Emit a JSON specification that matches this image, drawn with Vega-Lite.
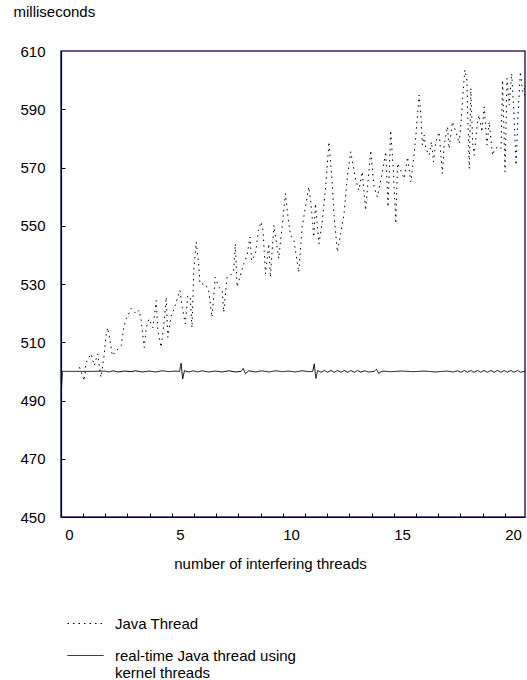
{
  "$schema": "https://vega.github.io/schema/vega-lite/v6.json",
  "width": 464,
  "height": 466,
  "autosize": "none",
  "padding": {"left": 61, "top": 51, "right": 2, "bottom": 163},
  "config": {
    "font": "Liberation Sans",
    "view": {"stroke": "#2a2a70", "strokeWidth": 1.5},
    "axis": {"domainColor": "black", "domainWidth": 1.2, "grid": false, "labelFontSize": 15, "titleFontSize": 15, "titleFontWeight": "normal", "labelColor": "black", "titleColor": "black", "tickWidth": 1.2, "tickColor": "black"},
    "legend": {"labelFontSize": 15, "labelColor": "black"}
  },
  "data": {"values": [
    {"s": "Java Thread", "x": 0.47, "y": 501.4},
    {"s": "Java Thread", "x": 0.69, "y": 496.8},
    {"s": "Java Thread", "x": 0.77, "y": 503},
    {"s": "Java Thread", "x": 0.99, "y": 506},
    {"s": "Java Thread", "x": 1.14, "y": 502},
    {"s": "Java Thread", "x": 1.29, "y": 506},
    {"s": "Java Thread", "x": 1.44, "y": 498},
    {"s": "Java Thread", "x": 1.56, "y": 504},
    {"s": "Java Thread", "x": 1.67, "y": 512.3},
    {"s": "Java Thread", "x": 1.74, "y": 515},
    {"s": "Java Thread", "x": 1.85, "y": 510.5},
    {"s": "Java Thread", "x": 1.95, "y": 505.4},
    {"s": "Java Thread", "x": 2.12, "y": 507},
    {"s": "Java Thread", "x": 2.35, "y": 508.8},
    {"s": "Java Thread", "x": 2.47, "y": 515},
    {"s": "Java Thread", "x": 2.57, "y": 518},
    {"s": "Java Thread", "x": 2.8, "y": 521.6},
    {"s": "Java Thread", "x": 3.02, "y": 519.8},
    {"s": "Java Thread", "x": 3.16, "y": 521},
    {"s": "Java Thread", "x": 3.25, "y": 517.4},
    {"s": "Java Thread", "x": 3.39, "y": 508.2},
    {"s": "Java Thread", "x": 3.48, "y": 515},
    {"s": "Java Thread", "x": 3.6, "y": 518},
    {"s": "Java Thread", "x": 3.78, "y": 515},
    {"s": "Java Thread", "x": 3.93, "y": 524.3},
    {"s": "Java Thread", "x": 4.0, "y": 514},
    {"s": "Java Thread", "x": 4.15, "y": 508.3},
    {"s": "Java Thread", "x": 4.29, "y": 517.4},
    {"s": "Java Thread", "x": 4.38, "y": 525.5},
    {"s": "Java Thread", "x": 4.45, "y": 511.7},
    {"s": "Java Thread", "x": 4.6, "y": 519},
    {"s": "Java Thread", "x": 4.74, "y": 521.6},
    {"s": "Java Thread", "x": 4.9, "y": 525.5},
    {"s": "Java Thread", "x": 5.0, "y": 527.8},
    {"s": "Java Thread", "x": 5.1, "y": 522},
    {"s": "Java Thread", "x": 5.24, "y": 516.3},
    {"s": "Java Thread", "x": 5.35, "y": 526},
    {"s": "Java Thread", "x": 5.46, "y": 525.5},
    {"s": "Java Thread", "x": 5.54, "y": 515},
    {"s": "Java Thread", "x": 5.62, "y": 534.6},
    {"s": "Java Thread", "x": 5.73, "y": 544.4},
    {"s": "Java Thread", "x": 5.84, "y": 537},
    {"s": "Java Thread", "x": 5.9, "y": 530},
    {"s": "Java Thread", "x": 6.14, "y": 530},
    {"s": "Java Thread", "x": 6.29, "y": 527.8},
    {"s": "Java Thread", "x": 6.44, "y": 518.6},
    {"s": "Java Thread", "x": 6.59, "y": 532.3},
    {"s": "Java Thread", "x": 6.74, "y": 529},
    {"s": "Java Thread", "x": 6.9, "y": 527.8},
    {"s": "Java Thread", "x": 6.97, "y": 520.3},
    {"s": "Java Thread", "x": 7.12, "y": 532.3},
    {"s": "Java Thread", "x": 7.27, "y": 532.9},
    {"s": "Java Thread", "x": 7.42, "y": 534.6},
    {"s": "Java Thread", "x": 7.49, "y": 543.8},
    {"s": "Java Thread", "x": 7.57, "y": 529},
    {"s": "Java Thread", "x": 7.72, "y": 532.9},
    {"s": "Java Thread", "x": 7.87, "y": 537},
    {"s": "Java Thread", "x": 8.02, "y": 539.8},
    {"s": "Java Thread", "x": 8.15, "y": 546.1},
    {"s": "Java Thread", "x": 8.23, "y": 538},
    {"s": "Java Thread", "x": 8.4, "y": 540.4},
    {"s": "Java Thread", "x": 8.53, "y": 548.4},
    {"s": "Java Thread", "x": 8.65, "y": 551.3},
    {"s": "Java Thread", "x": 8.74, "y": 548.4},
    {"s": "Java Thread", "x": 8.85, "y": 533.5},
    {"s": "Java Thread", "x": 9.0, "y": 543.8},
    {"s": "Java Thread", "x": 9.07, "y": 532.3},
    {"s": "Java Thread", "x": 9.23, "y": 550.1},
    {"s": "Java Thread", "x": 9.45, "y": 538.7},
    {"s": "Java Thread", "x": 9.53, "y": 545},
    {"s": "Java Thread", "x": 9.6, "y": 549.5},
    {"s": "Java Thread", "x": 9.75, "y": 561},
    {"s": "Java Thread", "x": 9.9, "y": 550.7},
    {"s": "Java Thread", "x": 9.98, "y": 546.7},
    {"s": "Java Thread", "x": 10.13, "y": 545},
    {"s": "Java Thread", "x": 10.35, "y": 534},
    {"s": "Java Thread", "x": 10.5, "y": 549.5},
    {"s": "Java Thread", "x": 10.65, "y": 556.4},
    {"s": "Java Thread", "x": 10.8, "y": 563.3},
    {"s": "Java Thread", "x": 10.9, "y": 557.6},
    {"s": "Java Thread", "x": 11.03, "y": 546.1},
    {"s": "Java Thread", "x": 11.1, "y": 557.6},
    {"s": "Java Thread", "x": 11.26, "y": 543.8},
    {"s": "Java Thread", "x": 11.41, "y": 551.8},
    {"s": "Java Thread", "x": 11.56, "y": 563.3},
    {"s": "Java Thread", "x": 11.71, "y": 578.8},
    {"s": "Java Thread", "x": 11.86, "y": 564.5},
    {"s": "Java Thread", "x": 11.93, "y": 554.2},
    {"s": "Java Thread", "x": 12.09, "y": 541},
    {"s": "Java Thread", "x": 12.24, "y": 547.3},
    {"s": "Java Thread", "x": 12.39, "y": 554.2},
    {"s": "Java Thread", "x": 12.54, "y": 566.8},
    {"s": "Java Thread", "x": 12.69, "y": 575.4},
    {"s": "Java Thread", "x": 12.92, "y": 565.6},
    {"s": "Java Thread", "x": 13.06, "y": 562.2},
    {"s": "Java Thread", "x": 13.21, "y": 568.5},
    {"s": "Java Thread", "x": 13.36, "y": 555.3},
    {"s": "Java Thread", "x": 13.59, "y": 575.9},
    {"s": "Java Thread", "x": 13.74, "y": 563.3},
    {"s": "Java Thread", "x": 13.89, "y": 559.9},
    {"s": "Java Thread", "x": 14.12, "y": 568.5},
    {"s": "Java Thread", "x": 14.27, "y": 575.4},
    {"s": "Java Thread", "x": 14.37, "y": 556.4},
    {"s": "Java Thread", "x": 14.49, "y": 582.8},
    {"s": "Java Thread", "x": 14.61, "y": 569},
    {"s": "Java Thread", "x": 14.72, "y": 550.7},
    {"s": "Java Thread", "x": 14.8, "y": 571.4},
    {"s": "Java Thread", "x": 14.94, "y": 569},
    {"s": "Java Thread", "x": 15.1, "y": 566.2},
    {"s": "Java Thread", "x": 15.25, "y": 573.6},
    {"s": "Java Thread", "x": 15.4, "y": 565},
    {"s": "Java Thread", "x": 15.55, "y": 574.8},
    {"s": "Java Thread", "x": 15.62, "y": 580.5},
    {"s": "Java Thread", "x": 15.77, "y": 594.9},
    {"s": "Java Thread", "x": 15.85, "y": 588},
    {"s": "Java Thread", "x": 15.92, "y": 577.7},
    {"s": "Java Thread", "x": 16.0, "y": 581.1},
    {"s": "Java Thread", "x": 16.07, "y": 576.5},
    {"s": "Java Thread", "x": 16.22, "y": 574.2},
    {"s": "Java Thread", "x": 16.33, "y": 578.8},
    {"s": "Java Thread", "x": 16.42, "y": 571.9},
    {"s": "Java Thread", "x": 16.52, "y": 578.8},
    {"s": "Java Thread", "x": 16.67, "y": 582.2},
    {"s": "Java Thread", "x": 16.82, "y": 567.9},
    {"s": "Java Thread", "x": 16.9, "y": 577.7},
    {"s": "Java Thread", "x": 17.05, "y": 584},
    {"s": "Java Thread", "x": 17.12, "y": 576.5},
    {"s": "Java Thread", "x": 17.27, "y": 585.7},
    {"s": "Java Thread", "x": 17.43, "y": 582.2},
    {"s": "Java Thread", "x": 17.58, "y": 578.2},
    {"s": "Java Thread", "x": 17.66, "y": 585.7},
    {"s": "Java Thread", "x": 17.73, "y": 593.7},
    {"s": "Java Thread", "x": 17.83, "y": 603.5},
    {"s": "Java Thread", "x": 17.92, "y": 600},
    {"s": "Java Thread", "x": 18.03, "y": 569.6},
    {"s": "Java Thread", "x": 18.1, "y": 597.2},
    {"s": "Java Thread", "x": 18.18, "y": 578.8},
    {"s": "Java Thread", "x": 18.25, "y": 574.2},
    {"s": "Java Thread", "x": 18.4, "y": 585.7},
    {"s": "Java Thread", "x": 18.47, "y": 588},
    {"s": "Java Thread", "x": 18.6, "y": 582.2},
    {"s": "Java Thread", "x": 18.7, "y": 590.8},
    {"s": "Java Thread", "x": 18.83, "y": 577.7},
    {"s": "Java Thread", "x": 18.93, "y": 585.7},
    {"s": "Java Thread", "x": 19.0, "y": 580},
    {"s": "Java Thread", "x": 19.08, "y": 574.2},
    {"s": "Java Thread", "x": 19.19, "y": 576.5},
    {"s": "Java Thread", "x": 19.34, "y": 577.1},
    {"s": "Java Thread", "x": 19.46, "y": 576.5},
    {"s": "Java Thread", "x": 19.53, "y": 600},
    {"s": "Java Thread", "x": 19.64, "y": 568.5},
    {"s": "Java Thread", "x": 19.73, "y": 600.6},
    {"s": "Java Thread", "x": 19.83, "y": 591.4},
    {"s": "Java Thread", "x": 19.94, "y": 602.3},
    {"s": "Java Thread", "x": 20.03, "y": 590.3},
    {"s": "Java Thread", "x": 20.14, "y": 570.8},
    {"s": "Java Thread", "x": 20.21, "y": 585.7},
    {"s": "Java Thread", "x": 20.33, "y": 602.9},
    {"s": "Java Thread", "x": 20.44, "y": 596},
    {"s": "Java Thread", "x": 20.51, "y": 597.2},
    {"s": "Java Thread", "x": 20.54, "y": 593.7},
    {"s": "RT", "x": -0.36, "y": 490.8},
    {"s": "RT", "x": -0.3, "y": 500},
    {"s": "RT", "x": 0.5, "y": 500},
    {"s": "RT", "x": 1.0, "y": 500},
    {"s": "RT", "x": 1.6, "y": 500.1},
    {"s": "RT", "x": 1.8, "y": 499.8},
    {"s": "RT", "x": 2.0, "y": 500.2},
    {"s": "RT", "x": 2.2, "y": 499.8},
    {"s": "RT", "x": 2.5, "y": 500.1},
    {"s": "RT", "x": 2.8, "y": 499.9},
    {"s": "RT", "x": 3.0, "y": 500.2},
    {"s": "RT", "x": 3.3, "y": 499.8},
    {"s": "RT", "x": 3.6, "y": 500.1},
    {"s": "RT", "x": 3.9, "y": 499.8},
    {"s": "RT", "x": 4.2, "y": 500.2},
    {"s": "RT", "x": 4.5, "y": 499.9},
    {"s": "RT", "x": 4.8, "y": 500.1},
    {"s": "RT", "x": 4.98, "y": 500},
    {"s": "RT", "x": 5.05, "y": 502.8},
    {"s": "RT", "x": 5.12, "y": 497.4},
    {"s": "RT", "x": 5.2, "y": 500.2},
    {"s": "RT", "x": 5.4, "y": 499.8},
    {"s": "RT", "x": 5.6, "y": 500.2},
    {"s": "RT", "x": 5.8, "y": 499.8},
    {"s": "RT", "x": 6.0, "y": 500.2},
    {"s": "RT", "x": 6.3, "y": 499.8},
    {"s": "RT", "x": 6.6, "y": 500.1},
    {"s": "RT", "x": 6.9, "y": 499.8},
    {"s": "RT", "x": 7.2, "y": 500.2},
    {"s": "RT", "x": 7.5, "y": 499.8},
    {"s": "RT", "x": 7.75, "y": 500},
    {"s": "RT", "x": 7.85, "y": 501},
    {"s": "RT", "x": 7.95, "y": 499.2},
    {"s": "RT", "x": 8.1, "y": 500.2},
    {"s": "RT", "x": 8.4, "y": 499.8},
    {"s": "RT", "x": 8.7, "y": 500.2},
    {"s": "RT", "x": 9.0, "y": 499.8},
    {"s": "RT", "x": 9.3, "y": 500.2},
    {"s": "RT", "x": 9.6, "y": 499.9},
    {"s": "RT", "x": 9.9, "y": 500.1},
    {"s": "RT", "x": 10.2, "y": 499.8},
    {"s": "RT", "x": 10.5, "y": 500.2},
    {"s": "RT", "x": 10.8, "y": 499.9},
    {"s": "RT", "x": 10.98, "y": 500},
    {"s": "RT", "x": 11.05, "y": 502.6},
    {"s": "RT", "x": 11.12, "y": 497.6},
    {"s": "RT", "x": 11.2, "y": 500.3},
    {"s": "RT", "x": 11.35, "y": 499.7},
    {"s": "RT", "x": 11.5, "y": 500.3},
    {"s": "RT", "x": 11.65, "y": 499.7},
    {"s": "RT", "x": 11.8, "y": 500.3},
    {"s": "RT", "x": 11.95, "y": 499.7},
    {"s": "RT", "x": 12.1, "y": 500.3},
    {"s": "RT", "x": 12.25, "y": 499.7},
    {"s": "RT", "x": 12.4, "y": 500.3},
    {"s": "RT", "x": 12.55, "y": 499.7},
    {"s": "RT", "x": 12.7, "y": 500.3},
    {"s": "RT", "x": 12.85, "y": 499.7},
    {"s": "RT", "x": 13.0, "y": 500.3},
    {"s": "RT", "x": 13.15, "y": 499.7},
    {"s": "RT", "x": 13.3, "y": 500.2},
    {"s": "RT", "x": 13.5, "y": 499.8},
    {"s": "RT", "x": 13.75, "y": 500},
    {"s": "RT", "x": 13.85, "y": 500.7},
    {"s": "RT", "x": 13.95, "y": 499.3},
    {"s": "RT", "x": 14.1, "y": 500.1},
    {"s": "RT", "x": 14.5, "y": 499.9},
    {"s": "RT", "x": 15.0, "y": 500.1},
    {"s": "RT", "x": 15.5, "y": 499.9},
    {"s": "RT", "x": 16.0, "y": 500.1},
    {"s": "RT", "x": 16.5, "y": 499.8},
    {"s": "RT", "x": 17.0, "y": 500.1},
    {"s": "RT", "x": 17.3, "y": 499.8},
    {"s": "RT", "x": 17.5, "y": 500.2},
    {"s": "RT", "x": 17.65, "y": 499.7},
    {"s": "RT", "x": 17.8, "y": 500.3},
    {"s": "RT", "x": 17.95, "y": 499.7},
    {"s": "RT", "x": 18.1, "y": 500.3},
    {"s": "RT", "x": 18.25, "y": 499.7},
    {"s": "RT", "x": 18.4, "y": 500.3},
    {"s": "RT", "x": 18.55, "y": 499.7},
    {"s": "RT", "x": 18.7, "y": 500.3},
    {"s": "RT", "x": 18.85, "y": 499.7},
    {"s": "RT", "x": 19.0, "y": 500.3},
    {"s": "RT", "x": 19.15, "y": 499.7},
    {"s": "RT", "x": 19.3, "y": 500.3},
    {"s": "RT", "x": 19.45, "y": 499.7},
    {"s": "RT", "x": 19.6, "y": 500.3},
    {"s": "RT", "x": 19.75, "y": 499.7},
    {"s": "RT", "x": 19.9, "y": 500.3},
    {"s": "RT", "x": 20.05, "y": 499.7},
    {"s": "RT", "x": 20.2, "y": 500.3},
    {"s": "RT", "x": 20.35, "y": 499.7},
    {"s": "RT", "x": 20.54, "y": 500.1}
  ]},
  "resolve": {"axis": {"x": "independent", "y": "independent"}},
  "layer": [
    {
      "mark": {"type": "line", "color": "black", "strokeWidth": 1, "clip": true, "interpolate": "linear"},
      "encoding": {
        "x": {
          "field": "x", "type": "quantitative",
          "scale": {"domain": [-0.36, 20.54], "nice": false, "zero": false},
          "axis": {
            "values": [0, 5, 10, 15, 20],
            "ticks": false,
            "labelPadding": 10,
            "labelBaseline": "top",
            "labelFlush": false,
            "labelOverlap": false,
            "title": "number of interfering threads",
            "titleX": 209,
            "titleY": 51,
            "titleAlign": "center",
            "titleBaseline": "alphabetic"
          }
        },
        "y": {
          "field": "y", "type": "quantitative",
          "scale": {"domain": [450, 610], "nice": false, "zero": false},
          "axis": {
            "values": [450, 470, 490, 510, 530, 550, 570, 590, 610],
            "ticks": false,
            "labelPadding": 16,
            "labelFlush": false,
            "labelOverlap": false,
            "title": "milliseconds",
            "titleAngle": 0,
            "titleAlign": "left",
            "titleBaseline": "alphabetic",
            "titleX": -48,
            "titleY": -35
          }
        },
        "strokeDash": {
          "field": "s", "type": "nominal",
          "scale": {"domain": ["Java Thread", "RT"], "range": [[1.5, 4], [1, 0]]},
          "legend": {
            "title": null,
            "orient": "none",
            "legendX": 6,
            "legendY": 554,
            "padding": 0,
            "symbolType": "stroke",
            "symbolSize": 1296,
            "symbolStrokeColor": "black",
            "symbolStrokeWidth": 1,
            "labelOffset": 11,
            "rowPadding": 5,
            "labelExpr": "datum.value === 'RT' ? ['real-time Java thread using', 'kernel threads'] : datum.label",
            "labelLimit": 400
          }
        }
      }
    },
    {
      "mark": {"type": "line", "strokeOpacity": 0, "clip": true},
      "encoding": {
        "x": {
          "field": "x", "type": "quantitative",
          "axis": {
            "orient": "top",
            "offset": -466,
            "values": [0.63, 1.63, 2.63, 3.63, 4.63, 5.63, 6.63, 7.63, 8.63, 9.63, 10.63, 11.63, 12.63, 13.63, 14.63, 15.63, 16.63, 17.63, 18.63, 19.63],
            "labels": false,
            "domain": false,
            "ticks": true,
            "tickSize": 4,
            "tickColor": "black",
            "tickWidth": 1,
            "title": null
          }
        },
        "y": {
          "field": "y", "type": "quantitative",
          "axis": {
            "orient": "right",
            "offset": -464,
            "values": [470, 490, 510, 530, 550, 570, 590],
            "labels": false,
            "domain": false,
            "ticks": true,
            "tickSize": 4,
            "tickColor": "black",
            "tickWidth": 1,
            "title": null
          }
        },
        "detail": {"field": "s", "type": "nominal"}
      }
    }
  ]
}
